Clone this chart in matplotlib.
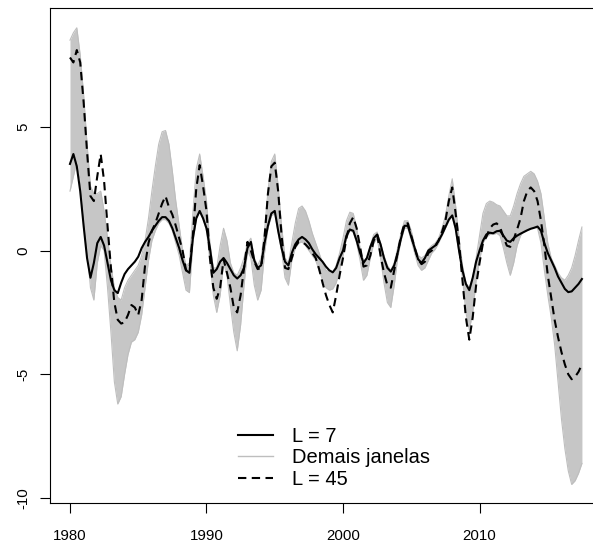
import numpy as np
import matplotlib
matplotlib.use("Agg")
import matplotlib.pyplot as plt

# quarterly time axis 1980Q1 .. 2017Q3
start_year = 1980
n_obs = 151
years = start_year + np.arange(n_obs) / 4.0

# L = 7 reconstruction (solid black)
L7 = [
    3.5, 3.9, 3.4, 2.4,        # 1980
    1.0, -0.3, -1.1, -0.5,     # 1981
    0.3, 0.55, 0.2, -0.5,      # 1982
    -1.2, -1.6, -1.72, -1.3,   # 1983
    -0.95, -0.75, -0.6, -0.45, # 1984
    -0.25, 0.1, 0.35, 0.55,    # 1985
    0.8, 1.0, 1.2, 1.35,       # 1986
    1.35, 1.2, 0.9, 0.5,       # 1987
    0.1, -0.4, -0.8, -0.9,     # 1988
    0.5, 1.3, 1.6, 1.3,        # 1989
    0.9, 0.1, -0.9, -0.75,     # 1990
    -0.45, -0.3, -0.5, -0.75,  # 1991
    -1.0, -1.13, -1.0, -0.7,   # 1992
    0.1, 0.35, -0.4, -0.7,     # 1993
    -0.6, 0.3, 1.0, 1.5,       # 1994
    1.6, 0.8, 0.1, -0.45,      # 1995
    -0.6, -0.1, 0.25, 0.45,    # 1996
    0.55, 0.45, 0.3, 0.05,     # 1997
    -0.15, -0.3, -0.45, -0.65, # 1998
    -0.8, -0.88, -0.7, -0.3,   # 1999
    0.0, 0.6, 0.85, 0.8,       # 2000
    0.4, -0.1, -0.5, -0.3,     # 2001
    0.15, 0.5, 0.65, 0.25,     # 2002
    -0.3, -0.7, -0.85, -0.6,   # 2003
    -0.1, 0.5, 1.0, 1.0,       # 2004
    0.55, 0.1, -0.35, -0.5,    # 2005
    -0.3, 0.0, 0.1, 0.2,       # 2006
    0.4, 0.65, 0.95, 1.25,     # 2007
    1.42, 0.9, 0.0, -0.8,      # 2008
    -1.35, -1.6, -1.1, -0.45,  # 2009
    0.0, 0.4, 0.65, 0.72,      # 2010
    0.7, 0.78, 0.8, 0.6,       # 2011
    0.4, 0.35, 0.5, 0.6,       # 2012
    0.68, 0.75, 0.82, 0.88,    # 2013
    0.92, 0.97, 0.8, 0.3,      # 2014
    -0.1, -0.4, -0.7, -1.05,   # 2015
    -1.3, -1.55, -1.68, -1.65, # 2016
    -1.5, -1.35, -1.15,        # 2017
]

# L = 45 reconstruction (dashed black)
L45 = [
    7.8, 7.6, 8.1, 7.6,        # 1980
    6.0, 4.0, 2.2, 2.0,        # 1981
    3.0, 3.9, 2.8, 1.0,        # 1982
    -0.7, -2.1, -2.8, -2.95,   # 1983
    -2.9, -2.6, -2.2, -2.3,    # 1984
    -2.6, -2.0, -0.6, 0.3,     # 1985
    0.8, 1.1, 1.5, 1.9,        # 1986
    2.2, 1.75, 1.45, 1.0,      # 1987
    0.5, 0.0, -0.8, -0.75,     # 1988
    0.6, 2.5, 3.45, 2.6,       # 1989
    1.6, -0.3, -1.5, -1.95,    # 1990
    -1.5, -0.35, -0.9, -1.5,   # 1991
    -2.3, -2.5, -1.8, -0.7,    # 1992
    0.35, 0.0, -0.45, -0.75,   # 1993
    -0.7, 0.5, 2.3, 3.4,       # 1994
    3.55, 2.4, 0.6, -0.7,      # 1995
    -0.75, -0.3, 0.15, 0.35,   # 1996
    0.35, 0.25, 0.1, -0.1,     # 1997
    -0.3, -0.75, -1.3, -1.8,   # 1998
    -2.2, -2.5, -1.8, -1.0,    # 1999
    -0.3, 0.5, 1.1, 1.35,      # 2000
    0.9, 0.15, -0.65, -0.6,    # 2001
    -0.2, 0.4, 0.65, -0.2,     # 2002
    -0.9, -1.4, -1.5, -0.8,    # 2003
    -0.1, 0.6, 1.1, 1.1,       # 2004
    0.6, 0.1, -0.35, -0.55,    # 2005
    -0.45, -0.1, 0.0, 0.15,    # 2006
    0.4, 0.75, 1.2, 2.0,       # 2007
    2.55, 1.5, 0.3, -1.2,      # 2008
    -2.7, -3.6, -2.7, -1.4,    # 2009
    -0.5, 0.3, 0.55, 0.9,      # 2010
    1.05, 1.1, 0.95, 0.55,     # 2011
    0.2, 0.15, 0.45, 0.85,     # 2012
    1.3, 2.0, 2.4, 2.55,       # 2013
    2.4, 2.0, 1.2, 0.2,        # 2014
    -1.0, -1.9, -2.8, -3.5,    # 2015
    -4.1, -4.6, -5.0, -5.2,    # 2016
    -5.1, -4.9, -4.6,          # 2017
]

# upper and lower edges of the bundle of the other windows (grey)
others_upper = [
    8.5, 8.8, 9.0, 7.9,        # 1980
    6.3, 4.3, 2.6, 2.3,        # 1981
    2.3, 2.4, 1.6, 0.5,        # 1982
    -0.6, -1.5, -1.9, -2.0,    # 1983
    -1.5, -1.2, -1.0, -0.8,    # 1984
    -0.6, -0.2, 0.4, 1.3,      # 1985
    2.4, 3.4, 4.3, 4.8,        # 1986
    4.85, 4.3, 3.2, 2.0,       # 1987
    1.0, 0.0, -0.6, -0.5,      # 1988
    1.5, 3.3, 3.9, 3.0,        # 1989
    2.0, 0.3, -0.7, -0.7,      # 1990
    0.2, 0.9, 0.4, -0.5,       # 1991
    -0.9, -1.0, -0.7, -0.3,    # 1992
    0.3, 0.5, -0.3, -0.6,      # 1993
    -0.3, 0.8, 2.4, 3.6,       # 1994
    3.9, 2.6, 1.0, -0.3,       # 1995
    -0.5, 0.3, 1.1, 1.7,       # 1996
    1.8, 1.6, 1.2, 0.7,        # 1997
    0.3, -0.1, -0.5, -0.8,     # 1998
    -0.85, -0.9, -0.6, -0.1,   # 1999
    0.5, 1.2, 1.55, 1.5,       # 2000
    0.9, 0.1, -0.4, -0.3,      # 2001
    0.2, 0.65, 0.75, 0.3,      # 2002
    -0.2, -0.6, -0.8, -0.5,    # 2003
    0.1, 0.7, 1.2, 1.2,        # 2004
    0.8, 0.2, -0.2, -0.3,      # 2005
    -0.2, 0.05, 0.2, 0.3,      # 2006
    0.5, 0.9, 1.4, 2.2,        # 2007
    2.9, 1.8, 0.5, -0.6,       # 2008
    -1.3, -1.5, -1.1, -0.3,    # 2009
    0.6, 1.5, 1.9, 2.0,        # 2010
    1.95, 1.85, 1.8, 1.6,      # 2011
    1.4, 1.4, 1.8, 2.3,        # 2012
    2.7, 3.0, 3.1, 3.2,        # 2013
    3.1, 2.8, 2.3, 1.3,        # 2014
    0.3, -0.3, -0.6, -0.9,     # 2015
    -1.1, -1.2, -1.0, -0.7,    # 2016
    -0.2, 0.4, 0.95,           # 2017
]

others_lower = [
    2.4, 3.0, 3.6, 2.8,        # 1980
    1.3, 0.0, -1.5, -2.0,      # 1981
    -0.5, 0.2, 0.0, -1.5,      # 1982
    -3.3, -5.3, -6.2, -5.9,    # 1983
    -5.0, -4.2, -3.7, -3.6,    # 1984
    -3.3, -2.6, -1.5, -0.4,    # 1985
    0.4, 0.8, 1.1, 1.25,       # 1986
    1.25, 1.1, 0.8, 0.3,       # 1987
    -0.2, -0.9, -1.6, -1.7,    # 1988
    0.3, 1.3, 1.6, 1.3,        # 1989
    0.8, -0.4, -1.8, -2.5,     # 1990
    -1.8, -0.5, -1.0, -2.2,    # 1991
    -3.3, -4.05, -3.0, -1.4,   # 1992
    0.0, -0.3, -1.4, -2.0,     # 1993
    -1.6, -0.1, 0.9, 1.4,      # 1994
    1.5, 0.7, 0.0, -1.1,       # 1995
    -1.4, -0.4, 0.1, 0.3,      # 1996
    0.35, 0.2, 0.0, -0.2,      # 1997
    -0.4, -0.8, -1.2, -1.5,    # 1998
    -1.6, -1.55, -1.3, -0.8,   # 1999
    -0.2, 0.5, 0.8, 0.75,      # 2000
    0.3, -0.4, -1.2, -1.0,     # 2001
    -0.3, 0.3, 0.5, -0.3,      # 2002
    -1.3, -2.1, -2.3, -1.4,    # 2003
    -0.3, 0.4, 0.9, 0.9,       # 2004
    0.4, -0.1, -0.6, -0.8,     # 2005
    -0.7, -0.4, -0.1, 0.05,    # 2006
    0.3, 0.6, 0.9, 1.2,        # 2007
    1.4, 0.8, -0.1, -1.1,      # 2008
    -2.5, -3.2, -2.5, -1.2,    # 2009
    -0.4, 0.3, 0.55, 0.65,     # 2010
    0.65, 0.7, 0.6, 0.1,       # 2011
    -0.5, -1.0, -0.5, 0.2,     # 2012
    0.6, 0.8, 0.85, 0.9,       # 2013
    0.95, 0.9, 0.3, -0.8,      # 2014
    -1.8, -2.7, -3.8, -5.3,    # 2015
    -6.8, -8.0, -8.9, -9.45,   # 2016
    -9.3, -9.0, -8.6,          # 2017
]

x_ticks = [1980, 1990, 2000, 2010]
y_ticks = [-10, -5, 0, 5]
legend_labels = ["L = 7", "Demais janelas", "L = 45"]

plt.rcParams['font.family'] = ['Liberation Sans', 'DejaVu Sans']

W, H = 593, 543
fig = plt.figure(figsize=(W / 100, H / 100), dpi=100)
left_px, right_px, top_px, bottom_px = 49.5, 602.4, 8, 503
ax = fig.add_axes([left_px / W, 1 - bottom_px / H,
                   (right_px - left_px) / W, (bottom_px - top_px) / H])

grey = '#bebebe'
ax.fill_between(years, others_lower, others_upper, color='#c6c6c6', lw=0)
ax.plot(years, others_upper, color=grey, lw=0.8)
ax.plot(years, others_lower, color=grey, lw=0.8)
ax.plot(years, L7, color='black', lw=1.5, solid_joinstyle='round')
ax.plot(years, L45, color='black', lw=1.5, ls=(0, (4, 2.6)), dash_capstyle='butt')

ax.set_xlim(1978.5, 2019.0)
ax.set_ylim(-10.2, 9.8)
ax.set_xticks(x_ticks)
ax.set_yticks(y_ticks)
ax.set_xticklabels([str(v) for v in x_ticks], fontsize=10.8)
ax.set_yticklabels([str(v) for v in y_ticks], fontsize=10.8, rotation=90, va='center')
ax.tick_params(axis='x', length=7, width=0.8, pad=12)
ax.tick_params(axis='y', length=7, width=0.8, pad=7)
for s in ax.spines.values():
    s.set_linewidth(0.8)

h1, = ax.plot([], [], color='black', lw=1.5)
h2, = ax.plot([], [], color=grey, lw=1.0)
h3, = ax.plot([], [], color='black', lw=1.5, ls=(0, (4, 2.6)))
fig.legend([h1, h2, h3], legend_labels, loc='upper left',
           bbox_to_anchor=(238 / W, 1 - 427 / H), bbox_transform=fig.transFigure,
           frameon=False, fontsize=14.5, handlelength=1.75, handletextpad=0.95,
           labelspacing=0.12, borderpad=0, borderaxespad=0)

fig.savefig('out.png', dpi=100)
